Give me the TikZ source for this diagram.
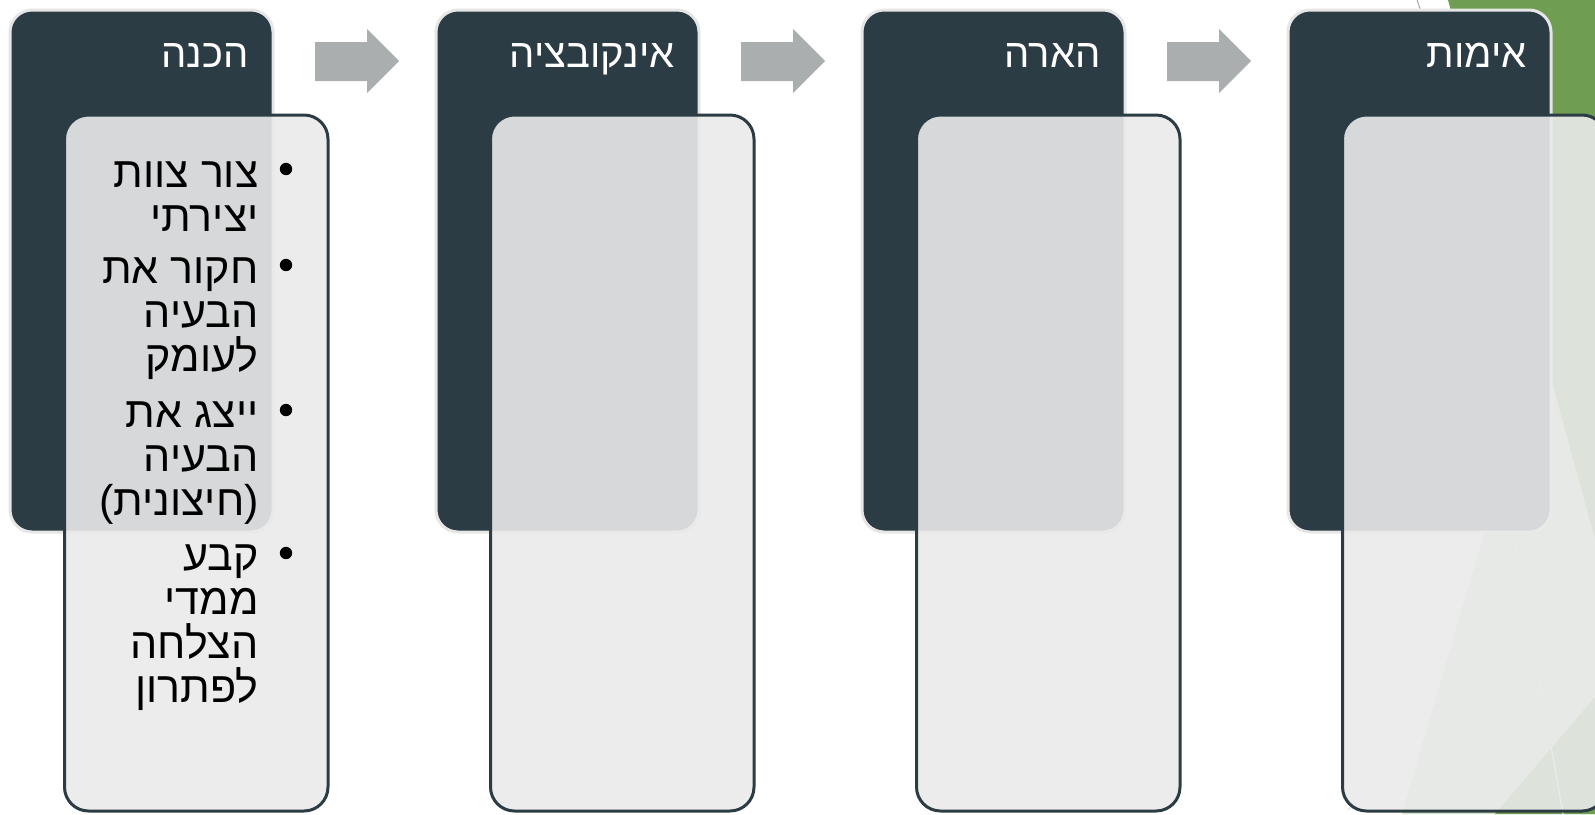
\documentclass[tikz,border=0pt]{standalone}
\usepackage{fontspec}
\setmainfont{Liberation Sans}
\newfontfamily\hebfont[Script=Hebrew]{Liberation Sans}
\TeXXeTstate=1

\definecolor{slate}{HTML}{2C3C44}
\definecolor{paper}{HTML}{EAEAEA}
\definecolor{rim}{HTML}{E6E6E6}
\definecolor{arrowgrey}{HTML}{ABAEAE}
\definecolor{leaf}{HTML}{6F9D51}
\definecolor{facet}{HTML}{D2E3C6}

\tikzset{
	headbox/.style={draw=rim, line width=1.5pt, fill=slate, rounded corners=11pt,
		minimum width=131.5pt, minimum height=261pt, inner sep=0pt},
	bodybox/.style={draw=slate, line width=1.5pt, fill=paper, fill opacity=0.9,
		rounded corners=12pt, minimum width=131.75pt, minimum height=348pt, inner sep=0pt},
	headtext/.style={text=white, font=\hebfont\fontsize{20}{24}\selectfont,
		anchor=base east, inner sep=0pt},
	itemtext/.style={text=black, font=\hebfont\fontsize{21.5}{25}\selectfont,
		anchor=base east, inner sep=0pt},
	pointer/.style={fill=arrowgrey}
}

\begin{document}
\begin{tikzpicture}[x=0.5pt, y=-0.5pt]
		\useasboundingbox (0, 0) rectangle (1595, 814);
		\clip (0, 0) rectangle (1595, 814);
		
		% background facets on the right edge
		\fill[facet] (1402, 814) -- (1640, 0) -- (1700, 0) -- (1700, 814) -- cycle;
		\fill[leaf] (1448, 0) -- (1600, 0) -- (1600, 558) -- cycle;
		\fill[leaf] (1495, 814) -- (1600, 691) -- (1600, 814) -- cycle;
		\draw[black!8, line width=0.6pt] (1490, 400) -- (1563, 814);
		\draw[black!8, line width=0.6pt] (1347, 810) -- (1600, 654);
		\draw[gray!70, line width=0.5pt] (1417, 0) -- (1423, 17);
		
		% dark header panels
		\foreach \i/\title in {0/הכנה, 1/אינקובציה, 2/הארה, 3/אימות} {
			\node[headbox] (head\i) at ({141.5+426*\i}, 271) {};
			\node[headtext] (title\i) at ({249+426*\i}, 67) {\beginR\title\endR};
		}
		
		% arrows between the steps
		\foreach \i in {0, 1, 2}
			\fill[pointer] ({315+426*\i}, 42) -- ++(52, 0) -- ++(0, -13) -- ++(32, 32)
				-- ++(-32, 32) -- ++(0, -12) -- ++(-52, 0) -- cycle;
		
		% light content panels
		\foreach \i in {0, 1, 2, 3}
			\node[bodybox] (body\i) at ({196.25+426*\i}, 463) {};
		
		% bullet list of the first step
		\foreach \yy in {169, 265, 410, 553}
			\fill (286, \yy) circle [radius=3.1pt];
		\foreach \yy/\line [count=\n] in {187/צור צוות, 231/יצירתי, 283/חקור את,
				327/הבעיה, 371/לעומק, 427/ייצג את, 471/הבעיה, 570/קבע,
				614/ממדי, 658/הצלחה, 702/לפתרון}
			\node[itemtext] (line\n) at (259, \yy) {\beginR\line\endR};
		\node[itemtext] (outer) at (259, 515) {\beginR(חיצונית)\endR};
	\end{tikzpicture}
\end{document}
